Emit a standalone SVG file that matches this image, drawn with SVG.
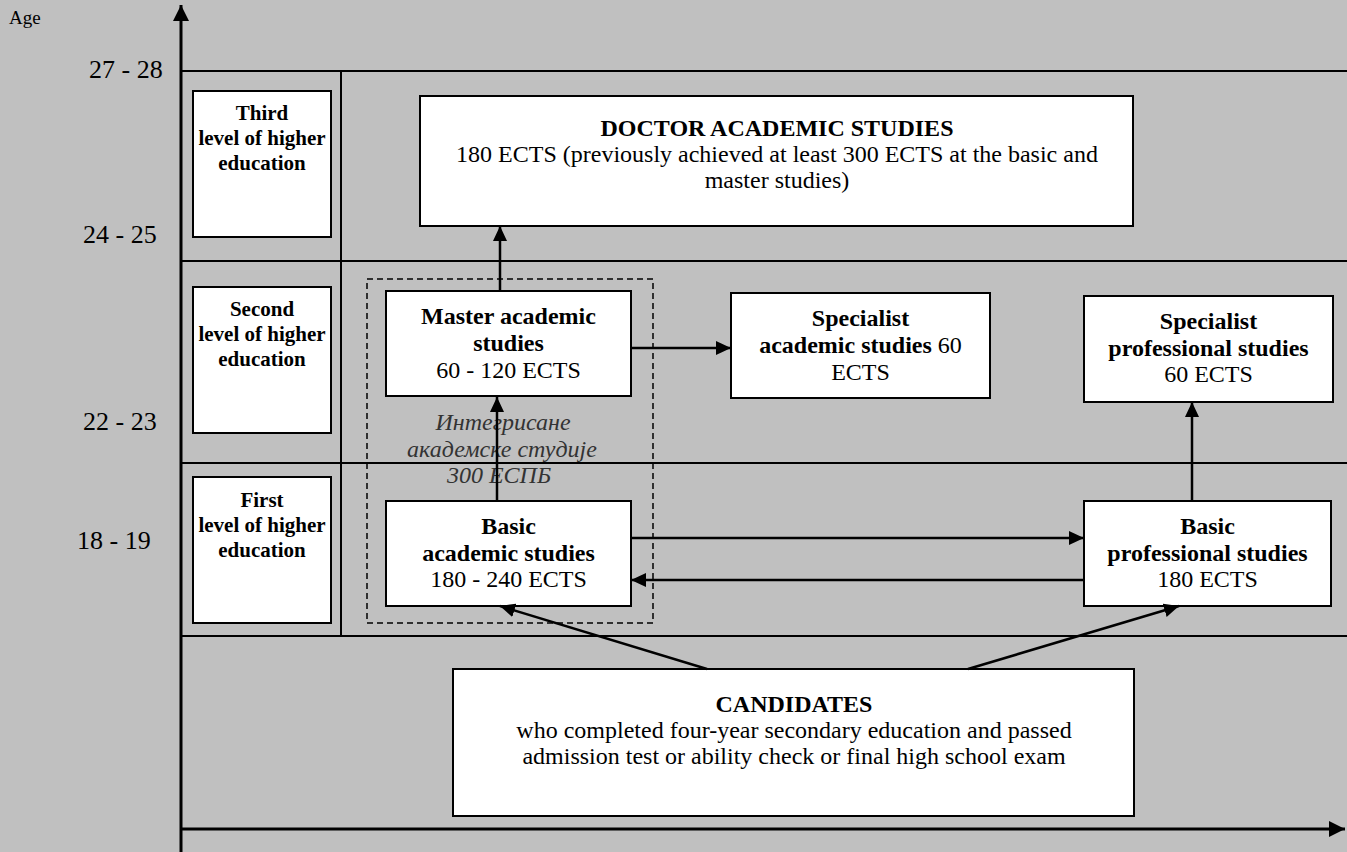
<svg xmlns="http://www.w3.org/2000/svg" width="1347" height="852" viewBox="0 0 1347 852">
<defs>
<style>
text{font-family:"Liberation Serif","Times New Roman",serif;fill:#000}
.box{fill:#fff;stroke:#000;stroke-width:2}
.grid{stroke:#000;stroke-width:2;fill:none}
.axis{stroke:#000;stroke-width:3;fill:none}
.conn{stroke:#000;stroke-width:2.5;fill:none}
.dash{stroke:#000;stroke-width:1.5;fill:none;stroke-dasharray:6 4}
.t{font-size:24px;text-anchor:middle}
.b{font-weight:bold}
.lv{font-size:21px;font-weight:bold;text-anchor:middle}
.age{font-size:26px}
.it{font-size:24px;font-style:italic;fill:#333;text-anchor:middle}
</style>
<marker id="ah" viewBox="0 0 15 14" refX="15" refY="7" markerWidth="15" markerHeight="14" markerUnits="userSpaceOnUse" orient="auto"><path d="M0,0 L15,7 L0,14 z" fill="#000"/></marker>
<marker id="axh" viewBox="0 0 16 16" refX="16" refY="8" markerWidth="16" markerHeight="16" markerUnits="userSpaceOnUse" orient="auto"><path d="M0,0 L16,8 L0,16 z" fill="#000"/></marker>
</defs>
<rect x="0" y="0" width="1347" height="852" fill="#c0c0c0"/>

<g id="grid">
<path class="grid" d="M181,71 H1347 M181,261 H1347 M181,463 H1347 M181,636 H1347 M341,71 V636"/>
</g>
<g id="axes">
<path class="axis" d="M181,852 V5" marker-end="url(#axh)"/>
<path class="axis" d="M181,829 H1345" marker-end="url(#axh)"/>
<text x="9" y="24" style="font-size:19px">Age</text>
<text class="age" x="89" y="78">27 - 28</text>
<text class="age" x="83" y="243">24 - 25</text>
<text class="age" x="83" y="430">22 - 23</text>
<text class="age" x="77" y="549">18 - 19</text>
</g>

<g id="level-third">
<rect class="box" x="193" y="91" width="138" height="146"/>
<text class="lv" x="262" y="120">Third</text>
<text class="lv" x="262" y="145">level of higher</text>
<text class="lv" x="262" y="170">education</text>
</g>
<g id="level-second">
<rect class="box" x="193" y="287" width="138" height="146"/>
<text class="lv" x="262" y="316">Second</text>
<text class="lv" x="262" y="341">level of higher</text>
<text class="lv" x="262" y="366">education</text>
</g>
<g id="level-first">
<rect class="box" x="193" y="477" width="138" height="146"/>
<text class="lv" x="262" y="507">First</text>
<text class="lv" x="262" y="532">level of higher</text>
<text class="lv" x="262" y="557">education</text>
</g>

<g id="integrated-group">
<rect class="dash" x="367" y="279" width="286" height="344"/>
<text class="it" x="503" y="430">Интегрисане</text>
<text class="it" x="502" y="457">академске студије</text>
<text class="it" x="499" y="483">300 ЕСПБ</text>
</g>

<g id="doctor">
<rect class="box" x="420" y="96" width="713" height="130"/>
<text class="t b" x="777" y="136">DOCTOR ACADEMIC STUDIES</text>
<text class="t" x="777" y="162">180 ECTS (previously achieved at least 300 ECTS at the basic and</text>
<text class="t" x="777" y="188">master studies)</text>
</g>

<g id="master">
<rect class="box" x="386" y="291" width="245" height="105"/>
<text class="t b" x="508.5" y="324">Master academic</text>
<text class="t b" x="508.5" y="351">studies</text>
<text class="t" x="508.5" y="378">60 - 120 ECTS</text>
</g>

<g id="specialist-academic">
<rect class="box" x="731" y="293" width="259" height="105"/>
<text class="t b" x="860.5" y="326">Specialist</text>
<text class="t" x="860.5" y="353"><tspan class="b">academic studies</tspan> 60</text>
<text class="t" x="860.5" y="380">ECTS</text>
</g>

<g id="specialist-professional">
<rect class="box" x="1084" y="296" width="249" height="106"/>
<text class="t b" x="1208.5" y="329">Specialist</text>
<text class="t b" x="1208.5" y="356">professional studies</text>
<text class="t" x="1208.5" y="382">60 ECTS</text>
</g>

<g id="basic-academic">
<rect class="box" x="386" y="501" width="245" height="105"/>
<text class="t b" x="508.5" y="534">Basic</text>
<text class="t b" x="508.5" y="561">academic studies</text>
<text class="t" x="508.5" y="587">180 - 240 ECTS</text>
</g>

<g id="basic-professional">
<rect class="box" x="1084" y="501" width="247" height="105"/>
<text class="t b" x="1207.5" y="534">Basic</text>
<text class="t b" x="1207.5" y="561">professional studies</text>
<text class="t" x="1207.5" y="587">180 ECTS</text>
</g>

<g id="candidates">
<rect class="box" x="453" y="669" width="681" height="147"/>
<text class="t b" x="794" y="712">CANDIDATES</text>
<text class="t" x="794" y="738">who completed four-year secondary education and passed</text>
<text class="t" x="794" y="764">admission test or ability check or final high school exam</text>
</g>

<g id="connectors">
<path class="conn" d="M500,291 V226" marker-end="url(#ah)"/>
<path class="conn" d="M497,501 V397" marker-end="url(#ah)"/>
<path class="conn" d="M631,348 H731" marker-end="url(#ah)"/>
<path class="conn" d="M631,538 H1084" marker-end="url(#ah)"/>
<path class="conn" d="M1084,580 H631" marker-end="url(#ah)"/>
<path class="conn" d="M1192,501 V402" marker-end="url(#ah)"/>
<path class="conn" d="M707,669 L500,606" marker-end="url(#ah)"/>
<path class="conn" d="M968,669 L1179,606" marker-end="url(#ah)"/>
</g>
</svg>
